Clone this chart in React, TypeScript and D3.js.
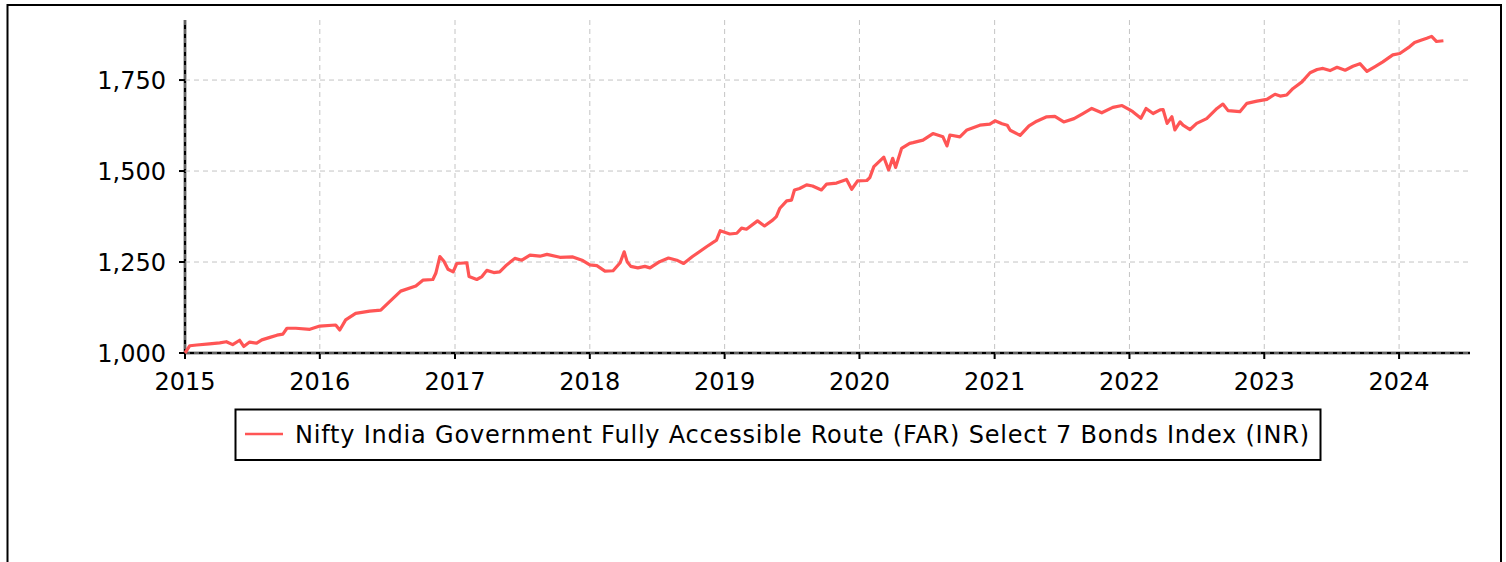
import { useRef, useEffect } from "react";
import * as d3 from "d3";

const seriesName =
  "Nifty India Government Fully Accessible Route (FAR) Select 7 Bonds Index (INR)";

// index level
const dates: string[] = [
  "2015-01-01", "2015-01-14", "2015-02-02", "2015-03-08", "2015-04-05", "2015-04-23",
  "2015-05-10", "2015-05-29", "2015-06-09", "2015-06-25", "2015-07-14", "2015-07-28",
  "2015-08-19", "2015-09-07", "2015-09-23", "2015-10-04", "2015-10-28", "2015-12-05",
  "2016-01-01", "2016-02-13", "2016-02-24", "2016-03-11", "2016-04-07", "2016-05-15",
  "2016-06-14", "2016-07-08", "2016-08-07", "2016-09-17", "2016-10-06", "2016-11-02",
  "2016-11-10", "2016-11-21", "2016-12-02", "2016-12-13", "2016-12-27", "2017-01-06",
  "2017-02-02", "2017-02-08", "2017-03-01", "2017-03-15", "2017-03-28", "2017-04-16",
  "2017-05-02", "2017-05-21", "2017-06-12", "2017-07-01", "2017-07-23", "2017-08-19",
  "2017-09-07", "2017-10-12", "2017-11-16", "2017-12-13", "2018-01-01", "2018-01-20",
  "2018-02-11", "2018-03-05", "2018-03-24", "2018-04-04", "2018-04-12", "2018-04-22",
  "2018-05-11", "2018-05-30", "2018-06-13", "2018-07-09", "2018-08-02", "2018-08-27",
  "2018-09-12", "2018-10-06", "2018-11-13", "2018-12-10", "2018-12-20", "2019-01-15",
  "2019-02-03", "2019-02-16", "2019-03-01", "2019-03-31", "2019-04-19", "2019-05-11",
  "2019-05-21", "2019-05-30", "2019-06-18", "2019-07-01", "2019-07-09", "2019-07-23",
  "2019-08-11", "2019-08-27", "2019-09-20", "2019-10-04", "2019-10-31", "2019-11-27",
  "2019-12-11", "2019-12-27", "2020-01-21", "2020-01-29", "2020-02-09", "2020-03-07",
  "2020-03-20", "2020-03-31", "2020-04-08", "2020-04-24", "2020-05-16", "2020-05-25",
  "2020-06-21", "2020-07-18", "2020-08-14", "2020-08-25", "2020-09-02", "2020-09-29",
  "2020-10-18", "2020-11-22", "2020-12-19", "2021-01-02", "2021-01-21", "2021-02-04",
  "2021-02-12", "2021-03-11", "2021-04-04", "2021-04-25", "2021-05-22", "2021-06-13",
  "2021-07-07", "2021-08-04", "2021-08-28", "2021-09-21", "2021-10-18", "2021-11-17",
  "2021-12-12", "2022-01-02", "2022-01-10", "2022-02-01", "2022-02-15", "2022-03-06",
  "2022-03-25", "2022-04-02", "2022-04-13", "2022-04-26", "2022-05-04", "2022-05-18",
  "2022-05-26", "2022-06-14", "2022-07-02", "2022-07-29", "2022-08-26", "2022-09-11",
  "2022-09-25", "2022-10-27", "2022-11-15", "2022-12-12", "2023-01-08", "2023-01-30",
  "2023-02-13", "2023-03-03", "2023-03-20", "2023-04-13", "2023-05-05", "2023-05-24",
  "2023-06-09", "2023-06-28", "2023-07-17", "2023-08-08", "2023-08-29", "2023-09-17",
  "2023-10-06", "2023-10-28", "2023-11-18", "2023-12-15", "2024-01-03", "2024-01-30",
  "2024-02-12", "2024-03-02", "2024-03-16", "2024-03-29", "2024-04-11", "2024-04-30",
];

const values: number[] = [
  1000, 1020, 1022, 1025, 1028, 1031,
  1023, 1035, 1018, 1030, 1027, 1036,
  1043, 1049, 1052, 1068, 1068, 1065,
  1074, 1077, 1063, 1091, 1109, 1115,
  1118, 1141, 1170, 1184, 1200, 1202,
  1219, 1265, 1252, 1230, 1223, 1246,
  1248, 1210, 1202, 1210, 1227, 1221,
  1223, 1242, 1260, 1255, 1269, 1266,
  1271, 1263, 1264, 1254, 1242, 1240,
  1225, 1226, 1248, 1278, 1251, 1238,
  1234, 1238, 1234, 1251, 1261, 1254,
  1246, 1265, 1292, 1310, 1336, 1327,
  1329, 1343, 1340, 1363, 1349, 1365,
  1375, 1397, 1418, 1420, 1448, 1452,
  1462, 1459, 1448, 1464, 1467, 1477,
  1450, 1473, 1474, 1482, 1512, 1538,
  1503, 1535, 1510, 1562, 1576, 1578,
  1585, 1603, 1594, 1569, 1599, 1594,
  1613, 1626, 1629, 1638, 1630, 1626,
  1612, 1598, 1624, 1637, 1649, 1650,
  1635, 1644, 1658, 1672, 1660, 1675,
  1680, 1668, 1663, 1645, 1672, 1658,
  1668, 1669, 1631, 1649, 1613, 1635,
  1626, 1614, 1631, 1644, 1672, 1684,
  1666, 1663, 1686, 1692, 1697, 1711,
  1706, 1709, 1727, 1745, 1770, 1779,
  1782, 1776, 1785, 1777, 1788, 1795,
  1774, 1787, 1800, 1819, 1823, 1842,
  1853, 1860, 1865, 1870, 1856, 1858,
];

const yTicks = [1000, 1250, 1500, 1750];
const xTickYears = [2015, 2016, 2017, 2018, 2019, 2020, 2021, 2022, 2023, 2024];

const width = 1506;
const height = 562;
const font = "'Lucida Sans', 'DejaVu Sans', sans-serif";
const red = "#ff5555";

const App = () => {
  const svgRef = useRef<SVGSVGElement>(null);

  useEffect(() => {
    if (!svgRef.current) return;
    const svg = d3.select(svgRef.current);
    svg.selectAll("*").remove();

    const parse = d3.timeParse("%Y-%m-%d");
    const pts = dates.map((d, i) => ({ date: parse(d) as Date, value: values[i] }));

    const x = d3
      .scaleTime()
      .domain([new Date(2015, 0, 1), new Date(2024, 6, 11)])
      .range([185, 1470]);
    const y = d3.scaleLinear().domain([1000, 1915]).range([353, 20]);
    const [x0, x1] = x.range();
    const [y0, y1] = y.range();
    const fmt = d3.format(",");

    // outer frame
    svg
      .append("rect")
      .attr("x", 7.5)
      .attr("y", 5)
      .attr("width", 1493.5)
      .attr("height", 620)
      .attr("fill", "white")
      .attr("stroke", "black")
      .attr("stroke-width", 2);

    // axis lines
    const axes = svg.append("g").attr("stroke", "black").attr("stroke-width", 2.5);
    axes.append("line").attr("x1", x0).attr("x2", x0).attr("y1", y1).attr("y2", y0);
    axes.append("line").attr("x1", x0).attr("x2", x1).attr("y1", y0).attr("y2", y0);

    // ticks
    axes
      .selectAll("line.yt")
      .data(yTicks)
      .join("line")
      .attr("class", "yt")
      .attr("stroke-width", 2)
      .attr("x1", x0 - 6)
      .attr("x2", x0)
      .attr("y1", (d) => y(d))
      .attr("y2", (d) => y(d));
    axes
      .selectAll("line.xt")
      .data(xTickYears)
      .join("line")
      .attr("class", "xt")
      .attr("stroke-width", 2)
      .attr("x1", (d) => x(new Date(d, 0, 1)))
      .attr("x2", (d) => x(new Date(d, 0, 1)))
      .attr("y1", y0)
      .attr("y2", y0 + 6);

    // grid
    const grid = svg
      .append("g")
      .attr("stroke", "#c4c4c4")
      .attr("stroke-width", 1)
      .attr("stroke-dasharray", "5,4");
    grid
      .selectAll("line.h")
      .data(yTicks)
      .join("line")
      .attr("class", "h")
      .attr("x1", x0)
      .attr("x2", x1)
      .attr("y1", (d) => y(d))
      .attr("y2", (d) => y(d));
    grid
      .selectAll("line.v")
      .data(xTickYears)
      .join("line")
      .attr("class", "v")
      .attr("x1", (d) => x(new Date(d, 0, 1)))
      .attr("x2", (d) => x(new Date(d, 0, 1)))
      .attr("y1", y1)
      .attr("y2", y0);

    // tick labels
    svg
      .append("g")
      .attr("font-family", font)
      .attr("font-size", 24)
      .attr("fill", "black")
      .attr("text-anchor", "end")
      .selectAll("text")
      .data(yTicks)
      .join("text")
      .attr("x", 166)
      .attr("y", (d) => y(d) + 9)
      .text((d) => fmt(d));
    svg
      .append("g")
      .attr("font-family", font)
      .attr("font-size", 24)
      .attr("fill", "black")
      .attr("text-anchor", "middle")
      .selectAll("text")
      .data(xTickYears)
      .join("text")
      .attr("x", (d) => x(new Date(d, 0, 1)))
      .attr("y", 390)
      .text((d) => String(d));

    // series
    const line = d3
      .line<{ date: Date; value: number }>()
      .x((d) => x(d.date))
      .y((d) => y(d.value))
      .curve(d3.curveLinear);
    svg
      .append("path")
      .datum(pts)
      .attr("fill", "none")
      .attr("stroke", red)
      .attr("stroke-width", 3.2)
      .attr("stroke-linejoin", "round")
      .attr("d", line);

    // legend
    const lg = svg.append("g");
    lg.append("rect")
      .attr("x", 235.5)
      .attr("y", 409.5)
      .attr("width", 1085)
      .attr("height", 50.5)
      .attr("fill", "white")
      .attr("stroke", "black")
      .attr("stroke-width", 2);
    lg.append("line")
      .attr("x1", 245)
      .attr("x2", 283)
      .attr("y1", 434)
      .attr("y2", 434)
      .attr("stroke", red)
      .attr("stroke-width", 2.5);
    lg.append("text")
      .attr("x", 295)
      .attr("y", 443)
      .attr("font-family", font)
      .attr("font-size", 24)
      .attr("letter-spacing", 0.8)
      .attr("fill", "black")
      .text(seriesName);
  }, []);

  return (
    <svg
      ref={svgRef}
      width={width}
      height={height}
      style={{ position: "absolute", left: 0, top: 0, display: "block" }}
    />
  );
};

export default App;
